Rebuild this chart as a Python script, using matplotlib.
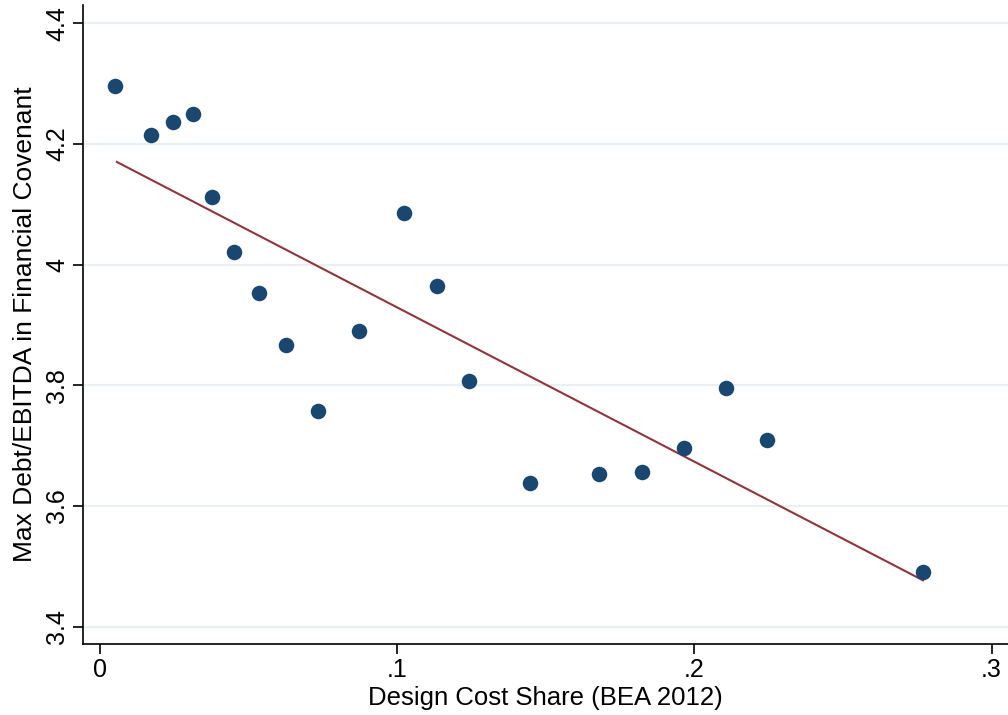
import matplotlib
matplotlib.use("Agg")
import matplotlib.pyplot as plt
import numpy as np

plt.rcParams['font.family'] = ['Liberation Sans', 'DejaVu Sans']

x_vals = [0.0050, 0.0172, 0.0246, 0.0313, 0.0377, 0.0451, 0.0535, 0.0626, 0.0734, 0.0872,
          0.1023, 0.1134, 0.1242, 0.1447, 0.1679, 0.1824, 0.1965, 0.2106, 0.2244, 0.2769]
y_vals = [4.296, 4.215, 4.236, 4.250, 4.112, 4.021, 3.953, 3.866, 3.757, 3.890,
          4.085, 3.964, 3.807, 3.638, 3.653, 3.656, 3.697, 3.795, 3.709, 3.491]
fit_x = [0.0057, 0.2769]
fit_y = [4.170, 3.477]
x_ticks = [0, 0.1, 0.2, 0.3]
x_tick_labels = ["0", ".1", ".2", ".3"]
y_ticks = [3.4, 3.6, 3.8, 4.0, 4.2, 4.4]
y_tick_labels = ["3.4", "3.6", "3.8", "4", "4.2", "4.4"]

fig = plt.figure(figsize=(10.08, 7.15), dpi=100)
ax = fig.add_axes([83/1008, (715-643.7)/715, 1 - 83/1008, (643.7-5)/715])

for t in y_ticks:
    ax.axhline(t, color='#e8f0f2', lw=1.6, zorder=0)

ax.plot(fit_x, fit_y, color='#90353b', lw=1.5, zorder=2)
ax.scatter(x_vals, y_vals, s=125, color='#1a476f', zorder=3, linewidths=0)

ax.set_xlim(-0.0057, 0.3055)
ax.set_ylim(3.372, 4.430)
ax.set_xticks(x_ticks)
ax.set_xticklabels(x_tick_labels, fontsize=18)
ax.set_yticks(y_ticks)
ax.set_yticklabels(y_tick_labels, fontsize=18, rotation=90, va='center')
ax.tick_params(axis='both', length=7, width=1.2, color='black')
ax.tick_params(axis='x', pad=3)
ax.tick_params(axis='y', pad=3)

for s in ['top', 'right']:
    ax.spines[s].set_visible(False)
for s in ['left', 'bottom']:
    ax.spines[s].set_linewidth(1.2)

ax.set_xlabel("Design Cost Share (BEA 2012)", fontsize=18.5, labelpad=3)
ax.set_ylabel("Max Debt/EBITDA in Financial Covenant", fontsize=19, labelpad=6)

fig.savefig("out.png", dpi=100)
